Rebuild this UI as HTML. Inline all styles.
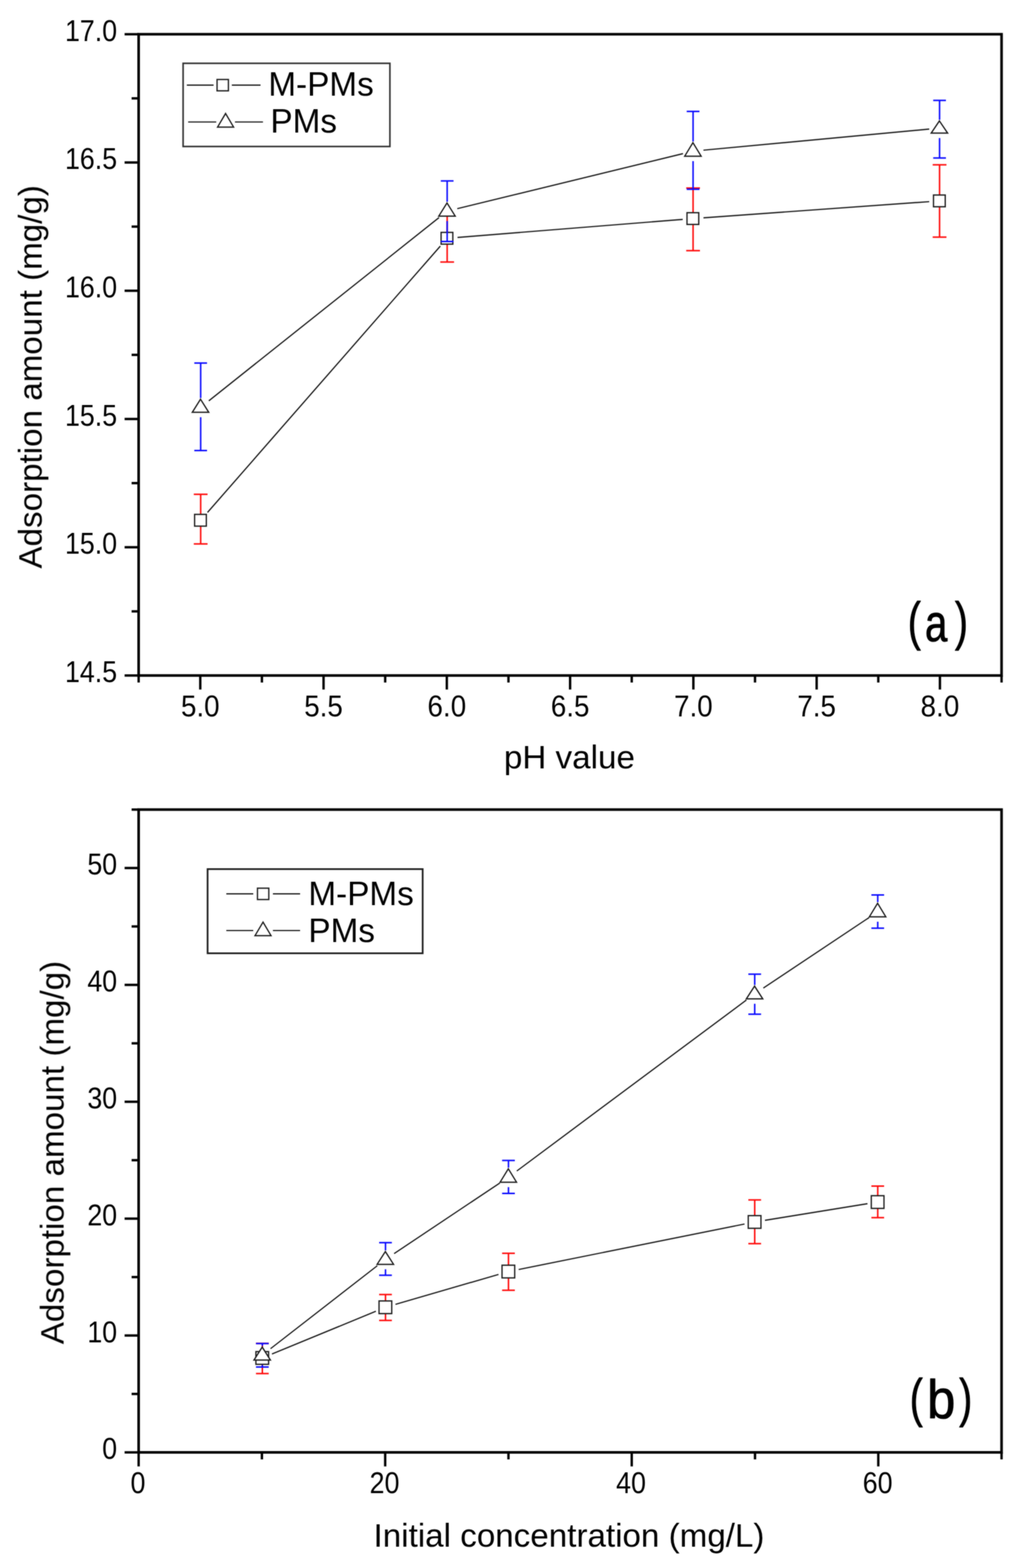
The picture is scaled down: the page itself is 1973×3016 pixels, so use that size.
<!DOCTYPE html>
<html lang="en">
<head>
<meta charset="utf-8">
<title>Adsorption amount vs pH value and initial concentration</title>
<style>
html, body { margin: 0; padding: 0; background: #ffffff; }
body { width: 1973px; height: 3016px; overflow: hidden; }
svg { display: block; }
#fig { width: 1973px; height: 3016px; }
svg text { font-family: "Liberation Sans", sans-serif; fill: #000; }
</style>
</head>
<body>
<div id="fig">
<svg width="1973" height="3016" viewBox="0 0 1973 3016">
<defs>
<filter id="soft" filterUnits="userSpaceOnUse" x="0" y="0" width="1973" height="3016" color-interpolation-filters="sRGB">
<feGaussianBlur in="SourceGraphic" stdDeviation="1" result="b"/>
<feComposite in="SourceGraphic" in2="b" operator="arithmetic" k1="0" k2="0.4" k3="0.6" k4="0"/>
</filter>
</defs>
<rect x="0" y="0" width="1973" height="3016" fill="#ffffff"/>
<g filter="url(#soft)">
<g id="plot-a">
<rect x="266.6" y="65.85" width="1659.40" height="1233.45" fill="none" stroke="#000" stroke-width="5.0"/>
<line x1="385.13" y1="1299.30" x2="385.13" y2="1326.30" stroke="#000" stroke-width="4.6"/>
<line x1="622.19" y1="1299.30" x2="622.19" y2="1326.30" stroke="#000" stroke-width="4.6"/>
<line x1="859.24" y1="1299.30" x2="859.24" y2="1326.30" stroke="#000" stroke-width="4.6"/>
<line x1="1096.30" y1="1299.30" x2="1096.30" y2="1326.30" stroke="#000" stroke-width="4.6"/>
<line x1="1333.36" y1="1299.30" x2="1333.36" y2="1326.30" stroke="#000" stroke-width="4.6"/>
<line x1="1570.41" y1="1299.30" x2="1570.41" y2="1326.30" stroke="#000" stroke-width="4.6"/>
<line x1="1807.47" y1="1299.30" x2="1807.47" y2="1326.30" stroke="#000" stroke-width="4.6"/>
<line x1="266.60" y1="1299.30" x2="266.60" y2="1312.80" stroke="#000" stroke-width="4.6"/>
<line x1="503.66" y1="1299.30" x2="503.66" y2="1312.80" stroke="#000" stroke-width="4.6"/>
<line x1="740.71" y1="1299.30" x2="740.71" y2="1312.80" stroke="#000" stroke-width="4.6"/>
<line x1="977.77" y1="1299.30" x2="977.77" y2="1312.80" stroke="#000" stroke-width="4.6"/>
<line x1="1214.83" y1="1299.30" x2="1214.83" y2="1312.80" stroke="#000" stroke-width="4.6"/>
<line x1="1451.89" y1="1299.30" x2="1451.89" y2="1312.80" stroke="#000" stroke-width="4.6"/>
<line x1="1688.94" y1="1299.30" x2="1688.94" y2="1312.80" stroke="#000" stroke-width="4.6"/>
<line x1="1926.00" y1="1299.30" x2="1926.00" y2="1312.80" stroke="#000" stroke-width="4.6"/>
<line x1="239.60" y1="1299.30" x2="266.60" y2="1299.30" stroke="#000" stroke-width="4.6"/>
<line x1="239.60" y1="1052.61" x2="266.60" y2="1052.61" stroke="#000" stroke-width="4.6"/>
<line x1="239.60" y1="805.92" x2="266.60" y2="805.92" stroke="#000" stroke-width="4.6"/>
<line x1="239.60" y1="559.23" x2="266.60" y2="559.23" stroke="#000" stroke-width="4.6"/>
<line x1="239.60" y1="312.54" x2="266.60" y2="312.54" stroke="#000" stroke-width="4.6"/>
<line x1="239.60" y1="65.85" x2="266.60" y2="65.85" stroke="#000" stroke-width="4.6"/>
<line x1="253.10" y1="1175.95" x2="266.60" y2="1175.95" stroke="#000" stroke-width="4.6"/>
<line x1="253.10" y1="929.26" x2="266.60" y2="929.26" stroke="#000" stroke-width="4.6"/>
<line x1="253.10" y1="682.58" x2="266.60" y2="682.58" stroke="#000" stroke-width="4.6"/>
<line x1="253.10" y1="435.88" x2="266.60" y2="435.88" stroke="#000" stroke-width="4.6"/>
<line x1="253.10" y1="189.19" x2="266.60" y2="189.19" stroke="#000" stroke-width="4.6"/>
<text transform="translate(385.13 1377.90) scale(0.99 1.055)" font-size="54.0" text-anchor="middle">5.0</text>
<text transform="translate(622.19 1377.90) scale(0.99 1.055)" font-size="54.0" text-anchor="middle">5.5</text>
<text transform="translate(859.24 1377.90) scale(0.99 1.055)" font-size="54.0" text-anchor="middle">6.0</text>
<text transform="translate(1096.30 1377.90) scale(0.99 1.055)" font-size="54.0" text-anchor="middle">6.5</text>
<text transform="translate(1333.36 1377.90) scale(0.99 1.055)" font-size="54.0" text-anchor="middle">7.0</text>
<text transform="translate(1570.41 1377.90) scale(0.99 1.055)" font-size="54.0" text-anchor="middle">7.5</text>
<text transform="translate(1807.47 1377.90) scale(0.99 1.055)" font-size="54.0" text-anchor="middle">8.0</text>
<text transform="translate(225.30 1312.10) scale(0.955 1.055)" font-size="54.0" text-anchor="end">14.5</text>
<text transform="translate(225.30 1065.41) scale(0.955 1.055)" font-size="54.0" text-anchor="end">15.0</text>
<text transform="translate(225.30 818.72) scale(0.955 1.055)" font-size="54.0" text-anchor="end">15.5</text>
<text transform="translate(225.30 572.03) scale(0.955 1.055)" font-size="54.0" text-anchor="end">16.0</text>
<text transform="translate(225.30 325.34) scale(0.955 1.055)" font-size="54.0" text-anchor="end">16.5</text>
<text transform="translate(225.30 78.65) scale(0.955 1.055)" font-size="54.0" text-anchor="end">17.0</text>
<line x1="385.90" y1="950.80" x2="385.90" y2="1046.20" stroke="#ff0a0a" stroke-width="2.9"/>
<line x1="372.65" y1="950.80" x2="399.15" y2="950.80" stroke="#ff0a0a" stroke-width="2.9"/>
<line x1="372.65" y1="1046.20" x2="399.15" y2="1046.20" stroke="#ff0a0a" stroke-width="2.9"/>
<line x1="859.90" y1="412.60" x2="859.90" y2="504.00" stroke="#ff0a0a" stroke-width="2.9"/>
<line x1="846.65" y1="412.60" x2="873.15" y2="412.60" stroke="#ff0a0a" stroke-width="2.9"/>
<line x1="846.65" y1="504.00" x2="873.15" y2="504.00" stroke="#ff0a0a" stroke-width="2.9"/>
<line x1="1332.80" y1="361.70" x2="1332.80" y2="482.10" stroke="#ff0a0a" stroke-width="2.9"/>
<line x1="1319.55" y1="361.70" x2="1346.05" y2="361.70" stroke="#ff0a0a" stroke-width="2.9"/>
<line x1="1319.55" y1="482.10" x2="1346.05" y2="482.10" stroke="#ff0a0a" stroke-width="2.9"/>
<line x1="1806.80" y1="317.00" x2="1806.80" y2="456.10" stroke="#ff0a0a" stroke-width="2.9"/>
<line x1="1793.55" y1="317.00" x2="1820.05" y2="317.00" stroke="#ff0a0a" stroke-width="2.9"/>
<line x1="1793.55" y1="456.10" x2="1820.05" y2="456.10" stroke="#ff0a0a" stroke-width="2.9"/>
<line x1="399.06" y1="985.64" x2="846.74" y2="473.36" stroke="#1c1c1c" stroke-width="2.4"/>
<line x1="879.84" y1="456.70" x2="1312.86" y2="422.00" stroke="#1c1c1c" stroke-width="2.4"/>
<line x1="1352.75" y1="418.97" x2="1786.85" y2="387.83" stroke="#1c1c1c" stroke-width="2.4"/>
<rect x="374.20" y="989.40" width="22.60" height="22.60" fill="#fff" stroke="#1c1c1c" stroke-width="2.5"/>
<rect x="848.20" y="447.00" width="22.60" height="22.60" fill="#fff" stroke="#1c1c1c" stroke-width="2.5"/>
<rect x="1321.10" y="409.10" width="22.60" height="22.60" fill="#fff" stroke="#1c1c1c" stroke-width="2.5"/>
<rect x="1795.10" y="375.10" width="22.60" height="22.60" fill="#fff" stroke="#1c1c1c" stroke-width="2.5"/>
<line x1="385.90" y1="698.30" x2="385.90" y2="765.50" stroke="#0a0aff" stroke-width="2.9"/>
<line x1="385.90" y1="802.50" x2="385.90" y2="866.60" stroke="#0a0aff" stroke-width="2.9"/>
<line x1="373.65" y1="698.30" x2="398.15" y2="698.30" stroke="#0a0aff" stroke-width="2.9"/>
<line x1="373.65" y1="866.60" x2="398.15" y2="866.60" stroke="#0a0aff" stroke-width="2.9"/>
<line x1="859.90" y1="348.00" x2="859.90" y2="388.00" stroke="#0a0aff" stroke-width="2.9"/>
<line x1="859.90" y1="425.20" x2="859.90" y2="464.50" stroke="#0a0aff" stroke-width="2.9"/>
<line x1="847.65" y1="348.00" x2="872.15" y2="348.00" stroke="#0a0aff" stroke-width="2.9"/>
<line x1="847.65" y1="464.50" x2="872.15" y2="464.50" stroke="#0a0aff" stroke-width="2.9"/>
<line x1="1332.80" y1="214.30" x2="1332.80" y2="272.10" stroke="#0a0aff" stroke-width="2.9"/>
<line x1="1332.80" y1="309.90" x2="1332.80" y2="364.00" stroke="#0a0aff" stroke-width="2.9"/>
<line x1="1320.55" y1="214.30" x2="1345.05" y2="214.30" stroke="#0a0aff" stroke-width="2.9"/>
<line x1="1320.55" y1="364.00" x2="1345.05" y2="364.00" stroke="#0a0aff" stroke-width="2.9"/>
<line x1="1806.80" y1="193.10" x2="1806.80" y2="230.30" stroke="#0a0aff" stroke-width="2.9"/>
<line x1="1806.80" y1="265.50" x2="1806.80" y2="303.90" stroke="#0a0aff" stroke-width="2.9"/>
<line x1="1794.55" y1="193.10" x2="1819.05" y2="193.10" stroke="#0a0aff" stroke-width="2.9"/>
<line x1="1794.55" y1="303.90" x2="1819.05" y2="303.90" stroke="#0a0aff" stroke-width="2.9"/>
<line x1="401.55" y1="770.94" x2="844.25" y2="418.56" stroke="#1c1c1c" stroke-width="2.4"/>
<line x1="879.33" y1="401.36" x2="1313.37" y2="295.54" stroke="#1c1c1c" stroke-width="2.4"/>
<line x1="1352.71" y1="288.93" x2="1786.89" y2="248.27" stroke="#1c1c1c" stroke-width="2.4"/>
<polygon points="385.60,767.80 401.40,793.00 369.80,793.00" fill="#fff" stroke="#1c1c1c" stroke-width="2.5" stroke-linejoin="miter"/>
<polygon points="859.60,390.30 875.40,415.70 843.80,415.70" fill="#fff" stroke="#1c1c1c" stroke-width="2.5" stroke-linejoin="miter"/>
<polygon points="1332.50,274.40 1348.30,300.40 1316.70,300.40" fill="#fff" stroke="#1c1c1c" stroke-width="2.5" stroke-linejoin="miter"/>
<polygon points="1806.50,232.60 1822.30,256.00 1790.70,256.00" fill="#fff" stroke="#1c1c1c" stroke-width="2.5" stroke-linejoin="miter"/>
<rect x="352.1" y="121.8" width="397.70" height="160.00" fill="#fff" stroke="#2e2e2e" stroke-width="3.0"/>
<line x1="359.30" y1="163.80" x2="410.70" y2="163.80" stroke="#1c1c1c" stroke-width="2.4"/>
<line x1="445.80" y1="163.80" x2="501.00" y2="163.80" stroke="#1c1c1c" stroke-width="2.4"/>
<rect x="417.40" y="152.90" width="21.80" height="21.80" fill="#fff" stroke="#1c1c1c" stroke-width="2.5"/>
<line x1="361.80" y1="234.60" x2="415.80" y2="234.60" stroke="#1c1c1c" stroke-width="2.4"/>
<line x1="451.80" y1="234.60" x2="505.70" y2="234.60" stroke="#1c1c1c" stroke-width="2.4"/>
<polygon points="433.80,218.30 449.20,244.40 418.40,244.40" fill="#fff" stroke="#1c1c1c" stroke-width="2.5" stroke-linejoin="miter"/>
<text x="516.00" y="184.30" font-size="64.0" text-anchor="start">M-PMs</text>
<text x="520.00" y="255.40" font-size="64.0" text-anchor="start">PMs</text>
<text x="1095.00" y="1478.00" font-size="63.8" text-anchor="middle">pH value</text>
<text transform="translate(80.1 724.8) rotate(-90)" font-size="63.8" text-anchor="middle">Adsorption amount (mg/g)</text>
<text y="1233.00" font-size="100" stroke="#000" stroke-width="1.5" stroke-linejoin="round"><tspan x="1745.70" dy="-3.5" font-size="102.5" textLength="25.087" lengthAdjust="spacingAndGlyphs">(</tspan><tspan x="1778.80" dy="3.5" textLength="43.090" lengthAdjust="spacingAndGlyphs">a</tspan><tspan x="1836.20" dy="-3.5" font-size="102.5" textLength="25.087" lengthAdjust="spacingAndGlyphs">)</tspan></text>
</g>
<g id="plot-b">
<rect x="266.6" y="1557.2" width="1659.40" height="1236.40" fill="none" stroke="#000" stroke-width="5.0"/>
<line x1="266.60" y1="2793.60" x2="266.60" y2="2820.60" stroke="#000" stroke-width="4.6"/>
<line x1="740.71" y1="2793.60" x2="740.71" y2="2820.60" stroke="#000" stroke-width="4.6"/>
<line x1="1214.83" y1="2793.60" x2="1214.83" y2="2820.60" stroke="#000" stroke-width="4.6"/>
<line x1="1688.94" y1="2793.60" x2="1688.94" y2="2820.60" stroke="#000" stroke-width="4.6"/>
<line x1="503.66" y1="2793.60" x2="503.66" y2="2807.10" stroke="#000" stroke-width="4.6"/>
<line x1="977.77" y1="2793.60" x2="977.77" y2="2807.10" stroke="#000" stroke-width="4.6"/>
<line x1="1451.89" y1="2793.60" x2="1451.89" y2="2807.10" stroke="#000" stroke-width="4.6"/>
<line x1="1926.00" y1="2793.60" x2="1926.00" y2="2807.10" stroke="#000" stroke-width="4.6"/>
<line x1="239.60" y1="2793.60" x2="266.60" y2="2793.60" stroke="#000" stroke-width="4.6"/>
<line x1="239.60" y1="2568.80" x2="266.60" y2="2568.80" stroke="#000" stroke-width="4.6"/>
<line x1="239.60" y1="2344.00" x2="266.60" y2="2344.00" stroke="#000" stroke-width="4.6"/>
<line x1="239.60" y1="2119.20" x2="266.60" y2="2119.20" stroke="#000" stroke-width="4.6"/>
<line x1="239.60" y1="1894.40" x2="266.60" y2="1894.40" stroke="#000" stroke-width="4.6"/>
<line x1="239.60" y1="1669.60" x2="266.60" y2="1669.60" stroke="#000" stroke-width="4.6"/>
<line x1="253.10" y1="2681.20" x2="266.60" y2="2681.20" stroke="#000" stroke-width="4.6"/>
<line x1="253.10" y1="2456.40" x2="266.60" y2="2456.40" stroke="#000" stroke-width="4.6"/>
<line x1="253.10" y1="2231.60" x2="266.60" y2="2231.60" stroke="#000" stroke-width="4.6"/>
<line x1="253.10" y1="2006.80" x2="266.60" y2="2006.80" stroke="#000" stroke-width="4.6"/>
<line x1="253.10" y1="1782.00" x2="266.60" y2="1782.00" stroke="#000" stroke-width="4.6"/>
<line x1="253.10" y1="1557.20" x2="266.60" y2="1557.20" stroke="#000" stroke-width="4.6"/>
<text transform="translate(265.30 2872.20) scale(0.955 1.055)" font-size="54.0" text-anchor="middle">0</text>
<text transform="translate(739.41 2872.20) scale(0.955 1.055)" font-size="54.0" text-anchor="middle">20</text>
<text transform="translate(1213.53 2872.20) scale(0.955 1.055)" font-size="54.0" text-anchor="middle">40</text>
<text transform="translate(1687.64 2872.20) scale(0.955 1.055)" font-size="54.0" text-anchor="middle">60</text>
<text transform="translate(225.30 2806.40) scale(0.955 1.055)" font-size="54.0" text-anchor="end">0</text>
<text transform="translate(225.30 2581.60) scale(0.955 1.055)" font-size="54.0" text-anchor="end">10</text>
<text transform="translate(225.30 2356.80) scale(0.955 1.055)" font-size="54.0" text-anchor="end">20</text>
<text transform="translate(225.30 2132.00) scale(0.955 1.055)" font-size="54.0" text-anchor="end">30</text>
<text transform="translate(225.30 1907.20) scale(0.955 1.055)" font-size="54.0" text-anchor="end">40</text>
<text transform="translate(225.30 1682.40) scale(0.955 1.055)" font-size="54.0" text-anchor="end">50</text>
<line x1="504.50" y1="2584.00" x2="504.50" y2="2642.00" stroke="#ff0a0a" stroke-width="2.9"/>
<line x1="492.25" y1="2584.00" x2="516.75" y2="2584.00" stroke="#ff0a0a" stroke-width="2.9"/>
<line x1="492.25" y1="2642.00" x2="516.75" y2="2642.00" stroke="#ff0a0a" stroke-width="2.9"/>
<line x1="741.30" y1="2490.00" x2="741.30" y2="2539.80" stroke="#ff0a0a" stroke-width="2.9"/>
<line x1="729.05" y1="2490.00" x2="753.55" y2="2490.00" stroke="#ff0a0a" stroke-width="2.9"/>
<line x1="729.05" y1="2539.80" x2="753.55" y2="2539.80" stroke="#ff0a0a" stroke-width="2.9"/>
<line x1="977.80" y1="2410.70" x2="977.80" y2="2481.80" stroke="#ff0a0a" stroke-width="2.9"/>
<line x1="965.55" y1="2410.70" x2="990.05" y2="2410.70" stroke="#ff0a0a" stroke-width="2.9"/>
<line x1="965.55" y1="2481.80" x2="990.05" y2="2481.80" stroke="#ff0a0a" stroke-width="2.9"/>
<line x1="1451.30" y1="2308.00" x2="1451.30" y2="2392.10" stroke="#ff0a0a" stroke-width="2.9"/>
<line x1="1439.05" y1="2308.00" x2="1463.55" y2="2308.00" stroke="#ff0a0a" stroke-width="2.9"/>
<line x1="1439.05" y1="2392.10" x2="1463.55" y2="2392.10" stroke="#ff0a0a" stroke-width="2.9"/>
<line x1="1687.90" y1="2281.40" x2="1687.90" y2="2342.10" stroke="#ff0a0a" stroke-width="2.9"/>
<line x1="1675.65" y1="2281.40" x2="1700.15" y2="2281.40" stroke="#ff0a0a" stroke-width="2.9"/>
<line x1="1675.65" y1="2342.10" x2="1700.15" y2="2342.10" stroke="#ff0a0a" stroke-width="2.9"/>
<line x1="522.99" y1="2604.39" x2="722.81" y2="2522.11" stroke="#1c1c1c" stroke-width="2.4"/>
<line x1="760.51" y1="2508.92" x2="958.59" y2="2451.38" stroke="#1c1c1c" stroke-width="2.4"/>
<line x1="997.41" y1="2441.85" x2="1431.69" y2="2354.35" stroke="#1c1c1c" stroke-width="2.4"/>
<line x1="1471.04" y1="2347.20" x2="1668.16" y2="2315.30" stroke="#1c1c1c" stroke-width="2.4"/>
<rect x="492.10" y="2599.80" width="24.40" height="24.40" fill="#fff" stroke="#1c1c1c" stroke-width="2.5"/>
<rect x="728.90" y="2502.30" width="24.40" height="24.40" fill="#fff" stroke="#1c1c1c" stroke-width="2.5"/>
<rect x="965.40" y="2433.60" width="24.40" height="24.40" fill="#fff" stroke="#1c1c1c" stroke-width="2.5"/>
<rect x="1438.90" y="2338.20" width="24.40" height="24.40" fill="#fff" stroke="#1c1c1c" stroke-width="2.5"/>
<rect x="1675.50" y="2299.90" width="24.40" height="24.40" fill="#fff" stroke="#1c1c1c" stroke-width="2.5"/>
<line x1="504.50" y1="2584.20" x2="504.50" y2="2588.70" stroke="#0a0aff" stroke-width="2.9"/>
<line x1="504.50" y1="2625.50" x2="504.50" y2="2629.40" stroke="#0a0aff" stroke-width="2.9"/>
<line x1="492.25" y1="2584.20" x2="516.75" y2="2584.20" stroke="#0a0aff" stroke-width="2.9"/>
<line x1="492.25" y1="2629.40" x2="516.75" y2="2629.40" stroke="#0a0aff" stroke-width="2.9"/>
<line x1="741.30" y1="2390.20" x2="741.30" y2="2405.00" stroke="#0a0aff" stroke-width="2.9"/>
<line x1="741.30" y1="2441.40" x2="741.30" y2="2452.90" stroke="#0a0aff" stroke-width="2.9"/>
<line x1="729.05" y1="2390.20" x2="753.55" y2="2390.20" stroke="#0a0aff" stroke-width="2.9"/>
<line x1="729.05" y1="2452.90" x2="753.55" y2="2452.90" stroke="#0a0aff" stroke-width="2.9"/>
<line x1="977.80" y1="2232.10" x2="977.80" y2="2245.80" stroke="#0a0aff" stroke-width="2.9"/>
<line x1="977.80" y1="2283.40" x2="977.80" y2="2295.50" stroke="#0a0aff" stroke-width="2.9"/>
<line x1="965.55" y1="2232.10" x2="990.05" y2="2232.10" stroke="#0a0aff" stroke-width="2.9"/>
<line x1="965.55" y1="2295.50" x2="990.05" y2="2295.50" stroke="#0a0aff" stroke-width="2.9"/>
<line x1="1451.30" y1="1873.80" x2="1451.30" y2="1894.50" stroke="#0a0aff" stroke-width="2.9"/>
<line x1="1451.30" y1="1930.70" x2="1451.30" y2="1950.80" stroke="#0a0aff" stroke-width="2.9"/>
<line x1="1439.05" y1="1873.80" x2="1463.55" y2="1873.80" stroke="#0a0aff" stroke-width="2.9"/>
<line x1="1439.05" y1="1950.80" x2="1463.55" y2="1950.80" stroke="#0a0aff" stroke-width="2.9"/>
<line x1="1687.90" y1="1721.40" x2="1687.90" y2="1735.10" stroke="#0a0aff" stroke-width="2.9"/>
<line x1="1687.90" y1="1772.90" x2="1687.90" y2="1785.30" stroke="#0a0aff" stroke-width="2.9"/>
<line x1="1675.65" y1="1721.40" x2="1700.15" y2="1721.40" stroke="#0a0aff" stroke-width="2.9"/>
<line x1="1675.65" y1="1785.30" x2="1700.15" y2="1785.30" stroke="#0a0aff" stroke-width="2.9"/>
<line x1="520.29" y1="2594.12" x2="725.51" y2="2434.58" stroke="#1c1c1c" stroke-width="2.4"/>
<line x1="757.93" y1="2411.19" x2="961.17" y2="2275.41" stroke="#1c1c1c" stroke-width="2.4"/>
<line x1="993.84" y1="2252.35" x2="1435.26" y2="1923.55" stroke="#1c1c1c" stroke-width="2.4"/>
<line x1="1467.94" y1="1900.50" x2="1671.26" y2="1764.90" stroke="#1c1c1c" stroke-width="2.4"/>
<polygon points="504.20,2591.00 520.00,2616.00 488.40,2616.00" fill="#fff" stroke="#1c1c1c" stroke-width="2.5" stroke-linejoin="miter"/>
<polygon points="741.00,2407.30 756.80,2431.90 725.20,2431.90" fill="#fff" stroke="#1c1c1c" stroke-width="2.5" stroke-linejoin="miter"/>
<polygon points="977.50,2248.10 993.30,2273.90 961.70,2273.90" fill="#fff" stroke="#1c1c1c" stroke-width="2.5" stroke-linejoin="miter"/>
<polygon points="1451.00,1896.80 1466.80,1921.20 1435.20,1921.20" fill="#fff" stroke="#1c1c1c" stroke-width="2.5" stroke-linejoin="miter"/>
<polygon points="1687.60,1737.40 1703.40,1763.40 1671.80,1763.40" fill="#fff" stroke="#1c1c1c" stroke-width="2.5" stroke-linejoin="miter"/>
<rect x="399.2" y="1671.7" width="413.60" height="161.90" fill="#fff" stroke="#1c1c1c" stroke-width="3.3"/>
<line x1="435.20" y1="1719.30" x2="487.00" y2="1719.30" stroke="#1c1c1c" stroke-width="2.4"/>
<line x1="524.80" y1="1719.30" x2="577.10" y2="1719.30" stroke="#1c1c1c" stroke-width="2.4"/>
<rect x="495.10" y="1708.40" width="21.80" height="21.80" fill="#fff" stroke="#1c1c1c" stroke-width="2.5"/>
<line x1="435.20" y1="1789.90" x2="487.00" y2="1789.90" stroke="#1c1c1c" stroke-width="2.4"/>
<line x1="524.80" y1="1789.90" x2="577.10" y2="1789.90" stroke="#1c1c1c" stroke-width="2.4"/>
<polygon points="505.80,1773.60 521.20,1799.70 490.40,1799.70" fill="#fff" stroke="#1c1c1c" stroke-width="2.5" stroke-linejoin="miter"/>
<text x="593.00" y="1741.10" font-size="64.0" text-anchor="start">M-PMs</text>
<text x="593.00" y="1812.00" font-size="64.0" text-anchor="start">PMs</text>
<text x="1094.20" y="2975.00" font-size="63.8" text-anchor="middle">Initial concentration (mg/L)</text>
<text transform="translate(122.3 2216.8) rotate(-90)" font-size="63.8" text-anchor="middle">Adsorption amount (mg/g)</text>
<text y="2727.00" font-size="104" stroke="#000" stroke-width="1.5" stroke-linejoin="round"><tspan x="1749.50" dy="-3.5" font-size="102.5" textLength="25.087" lengthAdjust="spacingAndGlyphs">(</tspan><tspan x="1782.80" dy="3.5" textLength="54.355" lengthAdjust="spacingAndGlyphs">b</tspan><tspan x="1844.60" dy="-3.5" font-size="102.5" textLength="25.087" lengthAdjust="spacingAndGlyphs">)</tspan></text>
</g>
</g>
</svg>
</div>
</body>
</html>
